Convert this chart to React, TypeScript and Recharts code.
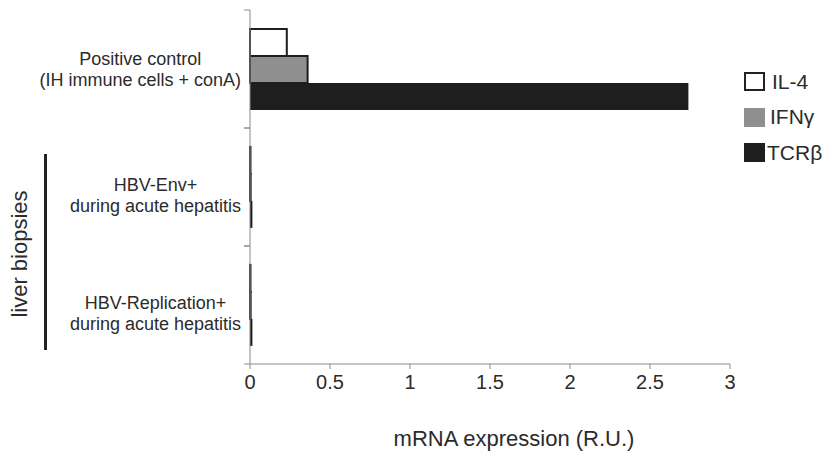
import React from "react";
import { BarChart, Bar, XAxis, YAxis } from "recharts";

const CATEGORIES = [
  "Positive control\n(IH immune cells + conA)",
  "HBV-Env+\nduring acute hepatitis",
  "HBV-Replication+\nduring acute hepatitis",
];
const IL4 = [0.23, 0.003, 0.003];
const IFNG = [0.36, 0.004, 0.004];
const TCRB = [2.74, 0.015, 0.015];
const X_TICKS = [0, 0.5, 1, 1.5, 2, 2.5, 3];

const SERIES = [
  { key: "il4", name: "IL-4", fill: "#ffffff" },
  { key: "ifng", name: "IFNγ", fill: "#8f8f8f" },
  { key: "tcrb", name: "TCRβ", fill: "#1e1e1e" },
];

const data = CATEGORIES.map((category, i) => ({
  category,
  il4: IL4[i],
  ifng: IFNG[i],
  tcrb: TCRB[i],
}));

const FONT = '"Liberation Sans", Arial, Helvetica, sans-serif';
const TEXT = "#2b2b2b";
const AXIS = "#8a8a8a";

let ctx: CanvasRenderingContext2D | null = null;
function measure(s: string, size: number) {
  if (!ctx) ctx = document.createElement("canvas").getContext("2d");
  if (!ctx) return s.length * size * 0.5;
  ctx.font = `${size}px ${FONT}`;
  return ctx.measureText(s).width;
}

// label lines centred on the widest one, plus tick marks at band edges
function CategoryTick(props: any) {
  const { x, y, payload, index } = props;
  const lines = String(payload.value).split("\n");
  const w = Math.max(...lines.map((l) => measure(l, 18)));
  const cx = x - 9 - w / 2;
  const shift = index === 0 ? 0 : 8;
  const lineH = 21;
  const half = payload.offset || 59;
  return (
    <g>
      <line x1={x - 6} x2={x} y1={y - half} y2={y - half} stroke={AXIS} />
      <line x1={x - 6} x2={x} y1={y + half} y2={y + half} stroke={AXIS} />
      <text x={cx} y={y + shift} textAnchor="middle" fill={TEXT} fontSize={18} fontFamily={FONT}>
        {lines.map((l, i) => (
          <tspan key={i} x={cx} dy={i === 0 ? -((lines.length - 1) * lineH) / 2 + 6 : lineH}>
            {l}
          </tspan>
        ))}
      </text>
    </g>
  );
}

function ChartLegend() {
  const gaps: Record<string, number> = { il4: 7, ifng: 5, tcrb: 2 };
  return (
    <div
      style={{
        position: "absolute",
        left: 744,
        top: 64,
        fontFamily: FONT,
        color: TEXT,
        fontSize: 21,
      }}
    >
      {SERIES.map((s) => (
        <div key={s.key} style={{ display: "flex", alignItems: "center", height: 35.5 }}>
          <span
            style={{
              display: "inline-block",
              width: 21,
              height: 19,
              boxSizing: "border-box",
              background: s.fill,
              border: s.key === "il4" ? "2px solid #222" : "none",
              marginRight: gaps[s.key],
            }}
          />
          <span>{s.name}</span>
        </div>
      ))}
    </div>
  );
}

export default function App() {
  return (
    <div style={{ position: "absolute", left: 0, top: 0, width: 830, height: 451, background: "#fff" }}>
      <BarChart
        layout="vertical"
        width={830}
        height={451}
        data={data}
        margin={{ top: 10, right: 100, bottom: 0, left: 0 }}
        barCategoryGap="16%"
        barGap={0}
      >
        <YAxis
          type="category"
          dataKey="category"
          width={250}
          axisLine={{ stroke: AXIS }}
          tickLine={false}
          tickSize={0}
          tickMargin={0}
          tick={<CategoryTick />}
          interval={0}
        />
        <XAxis
          type="number"
          domain={[0, 3]}
          ticks={X_TICKS}
          height={87}
          tickSize={5}
          tickMargin={6}
          stroke={AXIS}
          tick={{ fill: TEXT, fontSize: 20, fontFamily: FONT }}
          label={{
            value: "mRNA expression (R.U.)",
            position: "insideBottom",
            offset: 5,
            dx: 24,
            fill: TEXT,
            fontSize: 22,
            fontFamily: FONT,
          }}
        />
        {SERIES.map((s) => (
          <Bar
            key={s.key}
            dataKey={s.key}
            name={s.name}
            fill={s.fill}
            stroke="#1e1e1e"
            strokeWidth={s.key === "tcrb" ? 0 : 2}
            isAnimationActive={false}
          />
        ))}
      </BarChart>
      <ChartLegend />
      <div
        style={{
          position: "absolute",
          left: 44,
          top: 154,
          width: 3,
          height: 196,
          background: "#222",
        }}
      />
      <div
        style={{
          position: "absolute",
          left: 20,
          top: 254,
          transform: "translate(-50%, -50%) rotate(-90deg)",
          whiteSpace: "nowrap",
          fontFamily: FONT,
          fontSize: 22,
          color: TEXT,
        }}
      >
        liver biopsies
      </div>
    </div>
  );
}
